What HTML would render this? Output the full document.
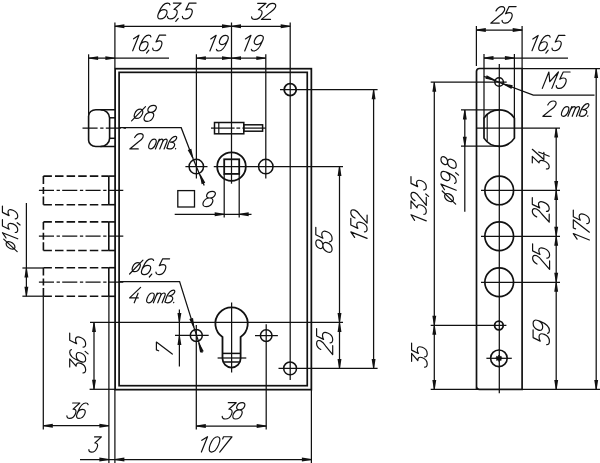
<!DOCTYPE html><html><head><meta charset="utf-8"><style>
html,body{margin:0;padding:0;background:#fff;width:600px;height:463px;overflow:hidden}
svg{display:block}
text{font-family:"Liberation Sans",sans-serif;fill:#111}
</style></head><body>
<svg width="600" height="463" viewBox="0 0 600 463">
<rect x="115.1" y="68.7" width="196.25000000000003" height="320.95" fill="none" stroke="#111" stroke-width="1.75"/>
<rect x="119.1" y="72.35" width="188.15" height="313.35" fill="none" stroke="#111" stroke-width="1.7"/>
<path d="M115,109.7 H95.8 A7.2,6.2 0 0 0 88.6,115.9 V140.3 A7.2,6.2 0 0 0 95.8,146.5 H115" fill="none" stroke="#111" stroke-width="1.6"/>
<path d="M100.5,109.7 A9,8.3 0 0 1 109.6,118 V138.2 A9,8.3 0 0 1 100.5,146.5" fill="none" stroke="#111" stroke-width="1.6"/>
<line x1="109.6" y1="117.8" x2="115" y2="117.8" stroke="#111" stroke-width="1.5"/>
<line x1="109.6" y1="138.3" x2="115" y2="138.3" stroke="#111" stroke-width="1.5"/>
<line x1="82.5" y1="128.2" x2="126" y2="128.2" stroke="#111" stroke-width="1.25" stroke-dasharray="15.1 2.6 3.3 2.3"/>
<path d="M43.4,176.1 H108.8" fill="none" stroke="#111" stroke-width="1.6" stroke-dasharray="8.5 3.1"/>
<path d="M43.4,176.1 V204.70000000000002" fill="none" stroke="#111" stroke-width="1.6" stroke-dasharray="7.8 3 7 2.5 9"/>
<path d="M43.4,204.70000000000002 H108.8" fill="none" stroke="#111" stroke-width="1.6" stroke-dasharray="8.5 3.1"/>
<line x1="108.8" y1="176.1" x2="108.8" y2="204.70000000000002" stroke="#111" stroke-width="1.6"/>
<line x1="108.8" y1="176.1" x2="115" y2="176.1" stroke="#111" stroke-width="1.6"/>
<line x1="108.8" y1="204.70000000000002" x2="115" y2="204.70000000000002" stroke="#111" stroke-width="1.6"/>
<line x1="38.9" y1="190.4" x2="123.3" y2="190.4" stroke="#111" stroke-width="1.25" stroke-dasharray="15.1 2.6 3.3 2.3"/>
<path d="M43.4,221.89999999999998 H108.8" fill="none" stroke="#111" stroke-width="1.6" stroke-dasharray="8.5 3.1"/>
<path d="M43.4,221.89999999999998 V250.5" fill="none" stroke="#111" stroke-width="1.6" stroke-dasharray="7.8 3 7 2.5 9"/>
<path d="M43.4,250.5 H108.8" fill="none" stroke="#111" stroke-width="1.6" stroke-dasharray="8.5 3.1"/>
<line x1="108.8" y1="221.89999999999998" x2="108.8" y2="250.5" stroke="#111" stroke-width="1.6"/>
<line x1="108.8" y1="221.89999999999998" x2="115" y2="221.89999999999998" stroke="#111" stroke-width="1.6"/>
<line x1="108.8" y1="250.5" x2="115" y2="250.5" stroke="#111" stroke-width="1.6"/>
<line x1="38.9" y1="236.2" x2="123.3" y2="236.2" stroke="#111" stroke-width="1.25" stroke-dasharray="15.1 2.6 3.3 2.3"/>
<path d="M43.4,267.7 H108.8" fill="none" stroke="#111" stroke-width="1.6" stroke-dasharray="8.5 3.1"/>
<path d="M43.4,267.7 V296.3" fill="none" stroke="#111" stroke-width="1.6" stroke-dasharray="7.8 3 7 2.5 9"/>
<path d="M43.4,296.3 H108.8" fill="none" stroke="#111" stroke-width="1.6" stroke-dasharray="8.5 3.1"/>
<line x1="108.8" y1="267.7" x2="108.8" y2="296.3" stroke="#111" stroke-width="1.6"/>
<line x1="108.8" y1="267.7" x2="115" y2="267.7" stroke="#111" stroke-width="1.6"/>
<line x1="108.8" y1="296.3" x2="115" y2="296.3" stroke="#111" stroke-width="1.6"/>
<line x1="38.9" y1="282.0" x2="123.3" y2="282.0" stroke="#111" stroke-width="1.25" stroke-dasharray="15.1 2.6 3.3 2.3"/>
<line x1="43.3" y1="296.2" x2="43.3" y2="429.5" stroke="#111" stroke-width="1.25"/>
<line x1="108.9" y1="296.2" x2="108.9" y2="463" stroke="#111" stroke-width="1.25"/>
<line x1="114.9" y1="22.5" x2="114.9" y2="68.3" stroke="#111" stroke-width="1.25"/>
<line x1="114.9" y1="389.3" x2="114.9" y2="463" stroke="#111" stroke-width="1.25"/>
<line x1="88.6" y1="54.3" x2="88.6" y2="115" stroke="#111" stroke-width="1.25"/>
<line x1="114.9" y1="26.3" x2="290.2" y2="26.3" stroke="#111" stroke-width="1.25"/>
<path d="M114.90,25.85 L124.40,24.35 L124.40,28.25 L114.90,26.75 Z" fill="#111"/>
<path d="M231.50,26.75 L222.00,28.25 L222.00,24.35 L231.50,25.85 Z" fill="#111"/>
<path d="M231.50,25.85 L241.00,24.35 L241.00,28.25 L231.50,26.75 Z" fill="#111"/>
<path d="M290.20,26.75 L280.70,28.25 L280.70,24.35 L290.20,25.85 Z" fill="#111"/>
<line x1="231.5" y1="22.5" x2="231.5" y2="183.7" stroke="#111" stroke-width="1.25"/>
<line x1="290.2" y1="22.5" x2="290.2" y2="380" stroke="#111" stroke-width="1.25"/>
<line x1="88.6" y1="58.1" x2="169" y2="58.1" stroke="#111" stroke-width="1.25"/>
<path d="M88.60,57.65 L98.10,56.15 L98.10,60.05 L88.60,58.55 Z" fill="#111"/>
<path d="M114.90,58.55 L105.40,60.05 L105.40,56.15 L114.90,57.65 Z" fill="#111"/>
<line x1="196.4" y1="58.1" x2="265.8" y2="58.1" stroke="#111" stroke-width="1.25"/>
<path d="M196.40,57.65 L205.90,56.15 L205.90,60.05 L196.40,58.55 Z" fill="#111"/>
<path d="M231.50,58.55 L222.00,60.05 L222.00,56.15 L231.50,57.65 Z" fill="#111"/>
<path d="M231.50,57.65 L241.00,56.15 L241.00,60.05 L231.50,58.55 Z" fill="#111"/>
<path d="M265.80,58.55 L256.30,60.05 L256.30,56.15 L265.80,57.65 Z" fill="#111"/>
<line x1="196.4" y1="54.3" x2="196.4" y2="178.5" stroke="#111" stroke-width="1.25"/>
<line x1="265.8" y1="54.3" x2="265.8" y2="178.5" stroke="#111" stroke-width="1.25"/>
<circle cx="290.2" cy="89.7" r="6.0" fill="none" stroke="#111" stroke-width="1.8"/>
<line x1="280" y1="89.7" x2="377.6" y2="89.7" stroke="#111" stroke-width="1.25"/>
<rect x="214.5" y="122.5" width="29.30000000000001" height="11.300000000000011" fill="none" stroke="#111" stroke-width="1.5"/>
<rect x="243.8" y="124.8" width="18.80000000000001" height="6.3999999999999915" fill="none" stroke="#111" stroke-width="1.5"/>
<line x1="218.8" y1="122.5" x2="218.8" y2="133.8" stroke="#111" stroke-width="1.2"/>
<line x1="211" y1="128.1" x2="234.6" y2="128.1" stroke="#111" stroke-width="1.25"/>
<line x1="236.4" y1="128.1" x2="240.2" y2="128.1" stroke="#111" stroke-width="1.25"/>
<line x1="242.4" y1="128.1" x2="265.7" y2="128.1" stroke="#111" stroke-width="1.25"/>
<circle cx="196.3" cy="166.6" r="7.25" fill="none" stroke="#111" stroke-width="1.5"/>
<circle cx="265.8" cy="166.6" r="7.25" fill="none" stroke="#111" stroke-width="1.5"/>
<circle cx="231.5" cy="166.6" r="14.3" fill="none" stroke="#111" stroke-width="1.8"/>
<rect x="224.2" y="159.3" width="15.0" height="14.599999999999994" fill="none" stroke="#111" stroke-width="1.8"/>
<line x1="185.4" y1="166.6" x2="207.5" y2="166.6" stroke="#111" stroke-width="1.25"/>
<line x1="213.75" y1="166.6" x2="343" y2="166.6" stroke="#111" stroke-width="1.25"/>
<line x1="224.2" y1="173.9" x2="224.2" y2="217.4" stroke="#111" stroke-width="1.25"/>
<line x1="239.2" y1="173.9" x2="239.2" y2="217.4" stroke="#111" stroke-width="1.25"/>
<rect x="177.8" y="190.6" width="16.69999999999999" height="16.400000000000006" fill="none" stroke="#111" stroke-width="1.3"/>
<line x1="174.7" y1="214.3" x2="251.5" y2="214.3" stroke="#111" stroke-width="1.25"/>
<path d="M224.20,214.75 L214.70,216.25 L214.70,212.35 L224.20,213.85 Z" fill="#111"/>
<path d="M239.20,213.85 L248.70,212.35 L248.70,216.25 L239.20,214.75 Z" fill="#111"/>
<path d="M119,127.7 H181.2 L192.9,158.2" fill="none" stroke="#111" stroke-width="1.25"/>
<path d="M192.48,158.36 L187.68,150.03 L191.32,148.63 L193.32,158.04 Z" fill="#111"/>
<path d="M192.9,158.2 L204.2,185.6" fill="none" stroke="#111" stroke-width="1.25"/>
<path d="M200.62,174.45 L205.28,182.86 L201.61,184.19 L199.78,174.75 Z" fill="#111"/>
<line x1="339.5" y1="166.6" x2="339.5" y2="368.4" stroke="#111" stroke-width="1.25"/>
<path d="M339.95,166.60 L341.45,176.10 L337.55,176.10 L339.05,166.60 Z" fill="#111"/>
<path d="M339.05,322.40 L337.55,312.90 L341.45,312.90 L339.95,322.40 Z" fill="#111"/>
<path d="M339.95,322.40 L341.45,331.90 L337.55,331.90 L339.05,322.40 Z" fill="#111"/>
<path d="M339.05,368.40 L337.55,358.90 L341.45,358.90 L339.95,368.40 Z" fill="#111"/>
<line x1="373.6" y1="89.7" x2="373.6" y2="368.4" stroke="#111" stroke-width="1.25"/>
<path d="M374.05,89.70 L375.55,99.20 L371.65,99.20 L373.15,89.70 Z" fill="#111"/>
<path d="M373.15,368.40 L371.65,358.90 L375.55,358.90 L374.05,368.40 Z" fill="#111"/>
<line x1="90" y1="322.4" x2="343" y2="322.4" stroke="#111" stroke-width="1.25"/>
<line x1="278.5" y1="368.4" x2="377.6" y2="368.4" stroke="#111" stroke-width="1.25"/>
<circle cx="196.3" cy="335.4" r="6.0" fill="none" stroke="#111" stroke-width="1.5"/>
<line x1="175" y1="335.4" x2="208.7" y2="335.4" stroke="#111" stroke-width="1.25"/>
<line x1="196.3" y1="325" x2="196.3" y2="429.5" stroke="#111" stroke-width="1.25"/>
<circle cx="266.2" cy="335.6" r="5.8" fill="none" stroke="#111" stroke-width="1.5"/>
<line x1="255" y1="335.6" x2="277.9" y2="335.6" stroke="#111" stroke-width="1.25"/>
<line x1="266.2" y1="324.3" x2="266.2" y2="429.5" stroke="#111" stroke-width="1.25"/>
<circle cx="290.1" cy="368.4" r="6.4" fill="none" stroke="#111" stroke-width="1.5"/>
<path d="M222.5,337 A16.2,16.2 0 1 1 240.6,337 L240.6,358.5 A9.05,9.05 0 0 1 222.5,358.5 Z" fill="none" stroke="#111" stroke-width="1.8"/>
<line x1="222.5" y1="353.4" x2="240.6" y2="353.4" stroke="#111" stroke-width="1.5"/>
<line x1="223" y1="362" x2="240" y2="362" stroke="#111" stroke-width="1.5"/>
<line x1="217.6" y1="358" x2="246.3" y2="358" stroke="#111" stroke-width="1.25"/>
<line x1="231.6" y1="302.5" x2="231.6" y2="372.5" stroke="#111" stroke-width="1.25"/>
<path d="M119,281.6 H179.6 L194,327.6" fill="none" stroke="#111" stroke-width="1.25"/>
<path d="M193.57,327.73 L189.30,319.12 L193.02,317.95 L194.43,327.47 Z" fill="#111"/>
<path d="M194,327.6 L202.2,352.7" fill="none" stroke="#111" stroke-width="1.25"/>
<path d="M199.12,342.85 L203.76,351.27 L200.09,352.60 L198.28,343.15 Z" fill="#111"/>
<line x1="179.4" y1="309.5" x2="179.4" y2="366.5" stroke="#111" stroke-width="1.25"/>
<path d="M178.95,322.40 L177.45,312.90 L181.35,312.90 L179.85,322.40 Z" fill="#111"/>
<path d="M179.85,335.40 L181.35,344.90 L177.45,344.90 L178.95,335.40 Z" fill="#111"/>
<line x1="89.6" y1="389.3" x2="115" y2="389.3" stroke="#111" stroke-width="1.25"/>
<line x1="94" y1="322.4" x2="94" y2="389.3" stroke="#111" stroke-width="1.25"/>
<path d="M94.45,322.40 L95.95,331.90 L92.05,331.90 L93.55,322.40 Z" fill="#111"/>
<path d="M93.55,389.30 L92.05,379.80 L95.95,379.80 L94.45,389.30 Z" fill="#111"/>
<line x1="196.3" y1="426" x2="266.2" y2="426" stroke="#111" stroke-width="1.25"/>
<path d="M196.30,425.55 L205.80,424.05 L205.80,427.95 L196.30,426.45 Z" fill="#111"/>
<path d="M266.20,426.45 L256.70,427.95 L256.70,424.05 L266.20,425.55 Z" fill="#111"/>
<line x1="43.3" y1="425.7" x2="108.9" y2="425.7" stroke="#111" stroke-width="1.25"/>
<path d="M43.30,425.25 L52.80,423.75 L52.80,427.65 L43.30,426.15 Z" fill="#111"/>
<path d="M108.90,426.15 L99.40,427.65 L99.40,423.75 L108.90,425.25 Z" fill="#111"/>
<line x1="80" y1="459.5" x2="311.4" y2="459.5" stroke="#111" stroke-width="1.25"/>
<path d="M108.90,459.95 L99.40,461.45 L99.40,457.55 L108.90,459.05 Z" fill="#111"/>
<path d="M114.90,459.05 L124.40,457.55 L124.40,461.45 L114.90,459.95 Z" fill="#111"/>
<path d="M311.40,459.95 L301.90,461.45 L301.90,457.55 L311.40,459.05 Z" fill="#111"/>
<line x1="311.4" y1="389.3" x2="311.4" y2="463" stroke="#111" stroke-width="1.25"/>
<line x1="22.4" y1="268" x2="43.3" y2="268" stroke="#111" stroke-width="1.25"/>
<line x1="22.4" y1="296.2" x2="43.3" y2="296.2" stroke="#111" stroke-width="1.25"/>
<line x1="26.4" y1="203" x2="26.4" y2="296.2" stroke="#111" stroke-width="1.25"/>
<path d="M26.85,268.00 L28.35,277.50 L24.45,277.50 L25.95,268.00 Z" fill="#111"/>
<path d="M25.95,296.20 L24.45,286.70 L28.35,286.70 L26.85,296.20 Z" fill="#111"/>
<path d="M476.5,389.5 V71.5 Q476.5,68.5 479.5,68.5 H522.1 V389.5 H479.5 Q476.5,389.5 476.5,386.5" fill="none" stroke="#111" stroke-width="1.7"/>
<line x1="499.3" y1="64" x2="499.3" y2="393.3" stroke="#111" stroke-width="1.25"/>
<line x1="476.4" y1="26" x2="476.4" y2="66" stroke="#111" stroke-width="1.25"/>
<line x1="522.1" y1="26" x2="522.1" y2="69" stroke="#111" stroke-width="1.25"/>
<line x1="476.3" y1="30" x2="522.2" y2="30" stroke="#111" stroke-width="1.25"/>
<path d="M476.30,29.55 L485.80,28.05 L485.80,31.95 L476.30,30.45 Z" fill="#111"/>
<path d="M522.20,30.45 L512.70,31.95 L512.70,28.05 L522.20,29.55 Z" fill="#111"/>
<line x1="484" y1="54" x2="484" y2="118.5" stroke="#111" stroke-width="1.25"/>
<line x1="514.4" y1="54" x2="514.4" y2="118.5" stroke="#111" stroke-width="1.25"/>
<line x1="484" y1="58" x2="568" y2="58" stroke="#111" stroke-width="1.25"/>
<path d="M484.00,57.55 L493.50,56.05 L493.50,59.95 L484.00,58.45 Z" fill="#111"/>
<path d="M514.40,58.45 L504.90,59.95 L504.90,56.05 L514.40,57.55 Z" fill="#111"/>
<line x1="522.1" y1="68.5" x2="600" y2="68.5" stroke="#111" stroke-width="1.25"/>
<line x1="596.2" y1="68.5" x2="596.2" y2="389.4" stroke="#111" stroke-width="1.25"/>
<path d="M596.65,68.50 L598.15,78.00 L594.25,78.00 L595.75,68.50 Z" fill="#111"/>
<path d="M595.75,389.40 L594.25,379.90 L598.15,379.90 L596.65,389.40 Z" fill="#111"/>
<circle cx="499.1" cy="82" r="4.3" fill="none" stroke="#111" stroke-width="1.5"/>
<line x1="430.7" y1="82.2" x2="506.7" y2="82.2" stroke="#111" stroke-width="1.25"/>
<path d="M484,76.3 L503.2,83.8" fill="none" stroke="#111" stroke-width="1.25"/>
<path d="M494.85,80.62 L485.39,78.86 L486.70,75.19 L495.15,79.78 Z" fill="#111"/>
<path d="M503.2,83.8 L533.3,95.2 H594.5" fill="none" stroke="#111" stroke-width="1.25"/>
<path d="M503.36,83.38 L512.77,85.34 L511.39,88.99 L503.04,84.22 Z" fill="#111"/>
<line x1="434.3" y1="82.2" x2="434.3" y2="389.4" stroke="#111" stroke-width="1.25"/>
<path d="M434.75,82.20 L436.25,91.70 L432.35,91.70 L433.85,82.20 Z" fill="#111"/>
<path d="M433.85,325.30 L432.35,315.80 L436.25,315.80 L434.75,325.30 Z" fill="#111"/>
<path d="M434.75,325.30 L436.25,334.80 L432.35,334.80 L433.85,325.30 Z" fill="#111"/>
<path d="M433.85,389.40 L432.35,379.90 L436.25,379.90 L434.75,389.40 Z" fill="#111"/>
<line x1="430.7" y1="325.3" x2="506.4" y2="325.3" stroke="#111" stroke-width="1.25"/>
<line x1="430.7" y1="389.4" x2="600" y2="389.4" stroke="#111" stroke-width="1.25"/>
<path d="M484,118.1 A18.2,18.2 0 0 1 514.4,118.1 L514.4,138.1 A18.2,18.2 0 0 1 484,138.1 Z" fill="none" stroke="#111" stroke-width="1.7"/>
<line x1="487.2" y1="114.7" x2="487.2" y2="141.3" stroke="#111" stroke-width="1.1"/>
<line x1="461" y1="109.9" x2="500" y2="109.9" stroke="#111" stroke-width="1.25"/>
<line x1="461" y1="146.2" x2="500" y2="146.2" stroke="#111" stroke-width="1.25"/>
<line x1="464.8" y1="109.9" x2="464.8" y2="211.7" stroke="#111" stroke-width="1.25"/>
<path d="M465.25,109.90 L466.75,119.40 L462.85,119.40 L464.35,109.90 Z" fill="#111"/>
<path d="M464.35,146.20 L462.85,136.70 L466.75,136.70 L465.25,146.20 Z" fill="#111"/>
<line x1="477" y1="128.1" x2="560" y2="128.1" stroke="#111" stroke-width="1.25"/>
<line x1="556.2" y1="128.1" x2="556.2" y2="389.4" stroke="#111" stroke-width="1.25"/>
<path d="M556.65,128.10 L558.15,137.60 L554.25,137.60 L555.75,128.10 Z" fill="#111"/>
<path d="M555.75,190.40 L554.25,180.90 L558.15,180.90 L556.65,190.40 Z" fill="#111"/>
<path d="M556.65,190.40 L558.15,199.90 L554.25,199.90 L555.75,190.40 Z" fill="#111"/>
<path d="M555.75,236.30 L554.25,226.80 L558.15,226.80 L556.65,236.30 Z" fill="#111"/>
<path d="M556.65,236.30 L558.15,245.80 L554.25,245.80 L555.75,236.30 Z" fill="#111"/>
<path d="M555.75,282.25 L554.25,272.75 L558.15,272.75 L556.65,282.25 Z" fill="#111"/>
<path d="M556.65,282.25 L558.15,291.75 L554.25,291.75 L555.75,282.25 Z" fill="#111"/>
<path d="M555.75,389.40 L554.25,379.90 L558.15,379.90 L556.65,389.40 Z" fill="#111"/>
<circle cx="499.2" cy="190.4" r="14.35" fill="none" stroke="#111" stroke-width="1.7"/>
<line x1="481" y1="190.4" x2="560" y2="190.4" stroke="#111" stroke-width="1.25"/>
<circle cx="499.2" cy="236.3" r="14.35" fill="none" stroke="#111" stroke-width="1.7"/>
<line x1="481" y1="236.3" x2="560" y2="236.3" stroke="#111" stroke-width="1.25"/>
<circle cx="499.2" cy="282.25" r="14.35" fill="none" stroke="#111" stroke-width="1.7"/>
<line x1="481" y1="282.25" x2="560" y2="282.25" stroke="#111" stroke-width="1.25"/>
<circle cx="498.9" cy="325.5" r="4.3" fill="none" stroke="#111" stroke-width="1.8"/>
<circle cx="498.9" cy="358.3" r="8.3" fill="none" stroke="#111" stroke-width="1.6"/>
<path d="M496.4,356.3 L501.4,360.3 M501.4,356.3 L496.4,360.3 M498.9,355 V361.6 M495.6,358.3 H502.2" stroke="#111" stroke-width="1.5" fill="none"/>
<line x1="486.4" y1="358.3" x2="511.8" y2="358.3" stroke="#111" stroke-width="1.25"/>
<path d="M169.98,4.78 C169.80,3.66 168.86,3.10 167.50,3.10 C164.55,3.10 161.32,6.46 159.08,12.06 L158.18,14.30 C156.98,17.29 158.10,18.97 160.52,18.97 C162.94,18.97 165.40,17.29 166.59,14.30 C167.79,11.32 166.67,9.64 164.25,9.64 C161.94,9.64 159.70,11.04 158.55,13.37 M173.39,3.10 L181.17,3.10 L174.00,9.45 C176.92,9.26 177.92,11.22 176.72,14.21 C175.53,17.20 173.03,18.97 170.51,18.97 C168.51,18.97 167.41,18.04 167.45,16.36 M178.20,18.41 L175.74,21.40 M196.10,3.10 L189.16,3.10 L185.77,10.01 C187.12,9.26 188.53,8.89 189.79,8.89 C192.21,8.89 192.96,10.94 191.73,14.02 C190.50,17.11 187.96,18.97 185.44,18.97 C183.44,18.97 182.34,18.04 182.38,16.36" fill="none" stroke="#111" stroke-width="1.2" stroke-linecap="round" stroke-linejoin="round"/>
<path d="M257.66,3.30 L266.06,3.30 L258.49,9.74 C261.63,9.55 262.76,11.54 261.55,14.57 C260.34,17.60 257.69,19.40 254.96,19.40 C252.81,19.40 251.60,18.45 251.60,16.75 M266.55,7.47 C267.98,4.72 270.37,3.30 272.64,3.30 C275.25,3.30 276.31,4.91 275.36,7.28 C274.52,9.36 272.86,10.69 270.14,12.39 L261.43,19.40 L270.51,19.40" fill="none" stroke="#111" stroke-width="1.2" stroke-linecap="round" stroke-linejoin="round"/>
<path d="M133.60,38.86 L138.93,35.20 L132.70,50.77 M150.91,36.85 C150.77,35.75 149.93,35.20 148.67,35.20 C145.97,35.20 142.91,38.50 140.72,43.99 L139.84,46.19 C138.67,49.12 139.65,50.77 141.86,50.77 C144.08,50.77 146.38,49.12 147.56,46.19 C148.73,43.26 147.75,41.61 145.53,41.61 C143.41,41.61 141.31,42.98 140.20,45.27 M148.84,50.22 L146.51,53.15 M165.65,35.20 L159.28,35.20 L155.99,41.98 C157.25,41.24 158.56,40.88 159.71,40.88 C161.93,40.88 162.57,42.89 161.36,45.92 C160.16,48.94 157.78,50.77 155.47,50.77 C153.63,50.77 152.65,49.85 152.73,48.20" fill="none" stroke="#111" stroke-width="1.2" stroke-linecap="round" stroke-linejoin="round"/>
<path d="M210.71,38.99 L216.18,35.30 L209.90,51.00 M216.46,49.34 C216.61,50.45 217.49,51.00 218.79,51.00 C221.58,51.00 224.71,47.68 226.93,42.13 L227.81,39.92 C229.00,36.96 227.96,35.30 225.67,35.30 C223.37,35.30 221.01,36.96 219.83,39.92 C218.64,42.87 219.68,44.54 221.97,44.54 C224.17,44.54 226.32,43.15 227.44,40.84" fill="none" stroke="#111" stroke-width="1.2" stroke-linecap="round" stroke-linejoin="round"/>
<path d="M245.45,38.99 L250.98,35.30 L244.70,51.00 M251.35,49.34 C251.51,50.45 252.40,51.00 253.72,51.00 C256.56,51.00 259.71,47.68 261.93,42.13 L262.82,39.92 C264.00,36.96 262.94,35.30 260.61,35.30 C258.28,35.30 255.89,36.96 254.71,39.92 C253.53,42.87 254.58,44.54 256.92,44.54 C259.15,44.54 261.32,43.15 262.45,40.84" fill="none" stroke="#111" stroke-width="1.2" stroke-linecap="round" stroke-linejoin="round"/>
<path d="M140.37,109.22 C142.48,109.22 143.47,111.20 142.42,113.85 C141.36,116.49 138.78,118.47 136.67,118.47 C134.55,118.47 133.56,116.49 134.62,113.85 C135.68,111.20 138.25,109.22 140.37,109.22 L140.37,109.22 M131.60,120.83 L145.51,106.67 M153.50,105.35 C155.95,105.35 156.94,106.77 156.11,108.84 C155.32,110.83 153.16,112.34 150.71,112.34 C148.25,112.34 147.30,110.83 148.09,108.84 C148.92,106.77 151.05,105.35 153.50,105.35 L153.50,105.35 M150.71,112.34 C153.38,112.34 154.41,114.22 153.35,116.87 C152.25,119.61 149.75,121.40 147.08,121.40 C144.41,121.40 143.34,119.61 144.44,116.87 C145.49,114.22 148.03,112.34 150.71,112.34 L150.71,112.34" fill="none" stroke="#111" stroke-width="1.2" stroke-linecap="round" stroke-linejoin="round"/>
<path d="M134.65,137.59 C136.01,134.98 138.25,133.62 140.36,133.62 C142.79,133.62 143.77,135.16 142.87,137.41 C142.08,139.39 140.51,140.65 137.96,142.27 L129.80,148.93 L138.26,148.93 M154.42,139.21 C156.42,139.21 156.80,141.19 155.64,144.06 C154.49,146.95 152.54,148.93 150.53,148.93 C148.52,148.93 148.15,146.95 149.30,144.06 C150.45,141.19 152.41,139.21 154.42,139.21 L154.42,139.21 M159.28,139.21 L155.39,148.93 M158.06,142.27 C159.10,140.20 160.44,139.21 161.61,139.21 C162.88,139.21 163.26,140.11 162.54,141.91 L159.73,148.93 M162.54,141.91 C163.47,140.11 164.67,139.21 165.84,139.21 C167.11,139.21 167.59,140.11 166.87,141.91 L164.06,148.93 M167.03,148.39 C167.62,145.33 169.60,140.38 171.77,138.12 C173.01,136.87 174.29,136.33 175.34,136.33 C176.61,136.33 176.99,137.23 176.49,138.49 C175.73,140.38 173.46,141.81 170.57,142.18 C173.78,142.09 175.32,143.53 174.45,145.69 C173.63,147.76 171.47,148.93 169.35,148.93 C168.08,148.93 167.27,148.56 166.82,147.84 M175.66,148.48 L175.52,148.84" fill="none" stroke="#111" stroke-width="1.2" stroke-linecap="round" stroke-linejoin="round"/>
<path d="M212.31,191.35 C214.86,191.35 215.94,192.70 215.15,194.68 C214.39,196.57 212.19,198.01 209.64,198.01 C207.10,198.01 206.05,196.57 206.81,194.68 C207.60,192.70 209.76,191.35 212.31,191.35 L212.31,191.35 M209.64,198.01 C212.42,198.01 213.56,199.81 212.55,202.33 C211.51,204.94 208.97,206.65 206.19,206.65 C203.41,206.65 202.24,204.94 203.28,202.33 C204.29,199.81 206.86,198.01 209.64,198.01 L209.64,198.01" fill="none" stroke="#111" stroke-width="1.2" stroke-linecap="round" stroke-linejoin="round"/>
<path d="M138.05,262.61 C140.05,262.61 140.95,264.56 139.91,267.16 C138.87,269.76 136.41,271.71 134.41,271.71 C132.42,271.71 131.52,269.76 132.56,267.16 C133.60,264.56 136.06,262.61 138.05,262.61 L138.05,262.61 M129.60,274.03 L142.94,260.10 M153.60,260.47 C153.42,259.36 152.49,258.80 151.12,258.80 C148.18,258.80 144.96,262.14 142.73,267.71 L141.84,269.94 C140.65,272.91 141.76,274.59 144.18,274.59 C146.59,274.59 149.05,272.91 150.24,269.94 C151.42,266.97 150.31,265.30 147.89,265.30 C145.58,265.30 143.35,266.69 142.21,269.01 M151.75,274.03 L149.30,277.00 M169.60,258.80 L162.67,258.80 L159.29,265.67 C160.64,264.93 162.05,264.56 163.31,264.56 C165.72,264.56 166.48,266.60 165.25,269.66 C164.03,272.73 161.50,274.59 158.98,274.59 C156.99,274.59 155.89,273.66 155.93,271.99" fill="none" stroke="#111" stroke-width="1.2" stroke-linecap="round" stroke-linejoin="round"/>
<path d="M140.61,287.40 L129.60,297.91 L138.32,297.91 M138.08,293.20 L134.23,302.80 M152.39,293.02 C154.42,293.02 154.79,295.01 153.63,297.91 C152.47,300.81 150.50,302.80 148.48,302.80 C146.46,302.80 146.09,300.81 147.25,297.91 C148.41,295.01 150.37,293.02 152.39,293.02 L152.39,293.02 M157.29,293.02 L153.37,302.80 M156.05,296.10 C157.10,294.01 158.46,293.02 159.62,293.02 C160.90,293.02 161.28,293.92 160.56,295.73 L157.73,302.80 M160.56,295.73 C161.49,293.92 162.71,293.02 163.88,293.02 C165.15,293.02 165.64,293.92 164.92,295.73 L162.09,302.80 M165.07,302.26 C165.67,299.18 167.66,294.19 169.84,291.93 C171.09,290.66 172.37,290.12 173.44,290.12 C174.71,290.12 175.09,291.02 174.59,292.29 C173.83,294.19 171.54,295.64 168.64,296.01 C171.86,295.92 173.41,297.36 172.54,299.54 C171.70,301.62 169.53,302.80 167.41,302.80 C166.13,302.80 165.32,302.44 164.86,301.71 M173.75,302.35 L173.61,302.71" fill="none" stroke="#111" stroke-width="1.2" stroke-linecap="round" stroke-linejoin="round"/>
<path d="M228.29,402.70 L236.19,402.70 L228.88,409.22 C231.84,409.03 232.85,411.04 231.62,414.11 C230.40,417.18 227.85,419.00 225.29,419.00 C223.26,419.00 222.15,418.04 222.20,416.32 M242.17,402.70 C244.52,402.70 245.44,404.14 244.59,406.25 C243.79,408.26 241.68,409.80 239.33,409.80 C236.98,409.80 236.10,408.26 236.90,406.25 C237.75,404.14 239.82,402.70 242.17,402.70 L242.17,402.70 M239.33,409.80 C241.89,409.80 242.83,411.71 241.76,414.40 C240.65,417.18 238.21,419.00 235.65,419.00 C233.08,419.00 232.11,417.18 233.22,414.40 C234.29,411.71 236.77,409.80 239.33,409.80 L239.33,409.80" fill="none" stroke="#111" stroke-width="1.2" stroke-linecap="round" stroke-linejoin="round"/>
<path d="M201.84,440.35 L207.52,436.75 L201.40,452.05 M217.59,436.75 C220.24,436.75 220.57,439.90 218.77,444.40 C216.97,448.90 214.12,452.05 211.47,452.05 C208.82,452.05 208.49,448.90 210.29,444.40 C212.09,439.90 214.94,436.75 217.59,436.75 L217.59,436.75 M222.66,438.91 L223.52,436.75 L232.00,436.75 L219.73,452.05" fill="none" stroke="#111" stroke-width="1.2" stroke-linecap="round" stroke-linejoin="round"/>
<path d="M72.63,403.00 L79.82,403.00 L73.08,409.16 C75.77,408.98 76.66,410.88 75.50,413.78 C74.34,416.68 72.00,418.40 69.67,418.40 C67.83,418.40 66.83,417.49 66.90,415.86 M88.10,404.63 C87.95,403.54 87.10,403.00 85.84,403.00 C83.12,403.00 80.07,406.26 77.89,411.70 L77.02,413.87 C75.86,416.77 76.86,418.40 79.10,418.40 C81.33,418.40 83.63,416.77 84.79,413.87 C85.95,410.97 84.95,409.34 82.72,409.34 C80.58,409.34 78.48,410.70 77.38,412.96" fill="none" stroke="#111" stroke-width="1.2" stroke-linecap="round" stroke-linejoin="round"/>
<path d="M94.57,436.90 L101.40,436.90 L94.89,443.02 C97.45,442.84 98.27,444.73 97.12,447.61 C95.96,450.49 93.71,452.20 91.49,452.20 C89.74,452.20 88.81,451.30 88.90,449.68" fill="none" stroke="#111" stroke-width="1.2" stroke-linecap="round" stroke-linejoin="round"/>
<path d="M496.01,10.87 C497.46,8.06 499.74,6.60 501.86,6.60 C504.31,6.60 505.24,8.25 504.27,10.68 C503.42,12.81 501.81,14.17 499.20,15.92 L490.80,23.10 L499.30,23.10 M516.10,6.60 L509.09,6.60 L505.58,13.78 C506.95,13.01 508.38,12.62 509.66,12.62 C512.10,12.62 512.84,14.75 511.56,17.96 C510.28,21.16 507.69,23.10 505.14,23.10 C503.12,23.10 502.03,22.13 502.09,20.38" fill="none" stroke="#111" stroke-width="1.2" stroke-linecap="round" stroke-linejoin="round"/>
<path d="M532.81,39.03 L538.12,35.43 L532.00,50.73 M550.14,37.05 C549.99,35.97 549.14,35.43 547.88,35.43 C545.18,35.43 542.14,38.67 539.98,44.07 L539.12,46.23 C537.97,49.11 538.96,50.73 541.18,50.73 C543.41,50.73 545.70,49.11 546.85,46.23 C548.00,43.35 547.01,41.73 544.78,41.73 C542.66,41.73 540.57,43.08 539.48,45.33 M548.17,50.19 L545.86,53.07 M564.90,35.43 L558.52,35.43 L555.28,42.09 C556.53,41.37 557.83,41.01 558.99,41.01 C561.22,41.01 561.88,42.99 560.69,45.96 C559.50,48.93 557.14,50.73 554.82,50.73 C552.98,50.73 551.99,49.83 552.05,48.21" fill="none" stroke="#111" stroke-width="1.2" stroke-linecap="round" stroke-linejoin="round"/>
<path d="M542.30,88.40 L548.86,72.00 L549.79,81.65 L558.44,72.00 L551.88,88.40 M570.10,72.00 L563.23,72.00 L559.75,79.14 C561.10,78.37 562.50,77.98 563.75,77.98 C566.15,77.98 566.86,80.10 565.58,83.29 C564.31,86.47 561.77,88.40 559.27,88.40 C557.29,88.40 556.22,87.44 556.29,85.70" fill="none" stroke="#111" stroke-width="1.2" stroke-linecap="round" stroke-linejoin="round"/>
<path d="M547.75,104.96 C549.10,102.35 551.30,101.00 553.37,101.00 C555.75,101.00 556.69,102.53 555.79,104.78 C555.00,106.76 553.46,108.02 550.95,109.64 L542.90,116.30 L551.18,116.30 M567.07,106.58 C569.04,106.58 569.39,108.56 568.24,111.44 C567.08,114.32 565.15,116.30 563.19,116.30 C561.22,116.30 560.87,114.32 562.03,111.44 C563.18,108.56 565.11,106.58 567.07,106.58 L567.07,106.58 M571.84,106.58 L567.95,116.30 M570.61,109.64 C571.65,107.57 572.97,106.58 574.11,106.58 C575.36,106.58 575.72,107.48 575.00,109.28 L572.19,116.30 M575.00,109.28 C575.93,107.48 577.11,106.58 578.25,106.58 C579.50,106.58 579.96,107.48 579.24,109.28 L576.44,116.30 M579.34,115.76 C579.95,112.70 581.93,107.75 584.07,105.50 C585.30,104.24 586.55,103.70 587.58,103.70 C588.82,103.70 589.19,104.60 588.68,105.86 C587.93,107.75 585.70,109.19 582.86,109.55 C586.00,109.46 587.50,110.90 586.63,113.06 C585.81,115.13 583.68,116.30 581.61,116.30 C580.37,116.30 579.58,115.94 579.14,115.22 M587.79,115.85 L587.65,116.21" fill="none" stroke="#111" stroke-width="1.2" stroke-linecap="round" stroke-linejoin="round"/>
<path d="M6.12,243.61 C6.12,241.78 8.01,240.99 10.53,242.00 C13.05,243.01 14.94,245.30 14.94,247.14 C14.94,248.97 13.05,249.75 10.53,248.74 C8.01,247.74 6.12,245.44 6.12,243.61 L6.12,243.61 M17.19,251.60 L3.69,239.07 M6.03,237.98 L2.43,232.69 L17.73,238.81 M2.43,219.68 L2.43,226.04 L9.09,229.28 C8.37,228.03 8.01,226.73 8.01,225.57 C8.01,223.36 9.99,222.71 12.96,223.89 C15.93,225.08 17.73,227.44 17.73,229.75 C17.73,231.58 16.83,232.57 15.21,232.50 M17.19,222.70 L20.07,225.00 M2.43,206.00 L2.43,212.36 L9.09,215.60 C8.37,214.35 8.01,213.05 8.01,211.89 C8.01,209.68 9.99,209.02 12.96,210.21 C15.93,211.40 17.73,213.76 17.73,216.07 C17.73,217.90 16.83,218.89 15.21,218.82" fill="none" stroke="#111" stroke-width="1.2" stroke-linecap="round" stroke-linejoin="round"/>
<path d="M69.70,366.92 L69.70,358.90 L76.08,366.22 C75.90,363.22 77.87,362.16 80.87,363.37 C83.88,364.57 85.66,367.12 85.66,369.72 C85.66,371.78 84.72,372.93 83.03,372.90 M71.39,349.60 C70.26,349.80 69.70,350.77 69.70,352.18 C69.70,355.21 73.08,358.51 78.71,360.77 L80.97,361.67 C83.97,362.87 85.66,361.70 85.66,359.21 C85.66,356.72 83.97,354.20 80.97,353.00 C77.96,351.80 76.27,352.96 76.27,355.46 C76.27,357.84 77.68,360.14 80.03,361.29 M85.10,351.40 L88.10,353.90 M69.70,333.10 L69.70,340.25 L76.65,343.68 C75.90,342.30 75.52,340.85 75.52,339.55 C75.52,337.05 77.59,336.25 80.68,337.49 C83.78,338.73 85.66,341.33 85.66,343.93 C85.66,345.99 84.72,347.13 83.03,347.10" fill="none" stroke="#111" stroke-width="1.2" stroke-linecap="round" stroke-linejoin="round"/>
<path d="M158.64,350.81 L156.40,349.91 L156.40,342.01 L172.30,354.09" fill="none" stroke="#111" stroke-width="1.2" stroke-linecap="round" stroke-linejoin="round"/>
<path d="M315.80,242.75 C315.80,240.25 317.24,239.23 319.35,240.08 C321.36,240.88 322.90,243.09 322.90,245.59 C322.90,248.08 321.36,249.06 319.35,248.25 C317.24,247.41 315.80,245.25 315.80,242.75 L315.80,242.75 M322.90,245.59 C322.90,242.86 324.81,241.81 327.50,242.88 C330.28,244.00 332.10,246.54 332.10,249.27 C332.10,251.99 330.28,253.08 327.50,251.97 C324.81,250.90 322.90,248.31 322.90,245.59 L322.90,245.59 M315.80,227.30 L315.80,234.80 L322.90,238.32 C322.13,236.87 321.74,235.36 321.74,233.99 C321.74,231.38 323.85,230.52 327.02,231.79 C330.18,233.05 332.10,235.75 332.10,238.48 C332.10,240.64 331.14,241.84 329.42,241.83" fill="none" stroke="#111" stroke-width="1.2" stroke-linecap="round" stroke-linejoin="round"/>
<path d="M354.64,237.45 L350.80,231.88 L367.10,238.40 M350.80,218.26 L350.80,224.92 L357.90,228.36 C357.13,227.05 356.74,225.68 356.74,224.47 C356.74,222.15 358.85,221.48 362.02,222.75 C365.18,224.01 367.10,226.49 367.10,228.92 C367.10,230.83 366.14,231.86 364.42,231.78 M355.02,218.03 C352.24,216.61 350.80,214.42 350.80,212.41 C350.80,210.09 352.43,209.22 354.83,210.18 C356.94,211.03 358.28,212.57 360.00,215.08 L367.10,223.16 L367.10,215.09" fill="none" stroke="#111" stroke-width="1.2" stroke-linecap="round" stroke-linejoin="round"/>
<path d="M320.77,349.49 C318.02,348.06 316.60,345.71 316.60,343.49 C316.60,340.94 318.21,339.91 320.58,340.86 C322.66,341.69 323.99,343.34 325.69,346.02 L332.70,354.60 L332.70,345.71 M316.60,328.60 L316.60,335.94 L323.61,339.41 C322.85,337.99 322.47,336.51 322.47,335.17 C322.47,332.62 324.56,331.78 327.68,333.03 C330.81,334.28 332.70,336.93 332.70,339.60 C332.70,341.71 331.75,342.89 330.05,342.87" fill="none" stroke="#111" stroke-width="1.2" stroke-linecap="round" stroke-linejoin="round"/>
<path d="M414.58,220.31 L410.98,214.78 L426.28,220.90 M410.98,208.54 L410.98,200.96 L417.10,207.91 C416.92,205.08 418.81,204.09 421.69,205.25 C424.57,206.40 426.28,208.82 426.28,211.28 C426.28,213.22 425.38,214.30 423.76,214.26 M414.94,200.60 C412.33,199.25 410.98,197.07 410.98,195.02 C410.98,192.67 412.51,191.75 414.76,192.65 C416.74,193.44 418.00,194.97 419.62,197.46 L426.28,205.44 L426.28,197.26 M425.74,193.97 L428.62,196.35 M410.98,176.60 L410.98,183.36 L417.64,186.63 C416.92,185.32 416.56,183.95 416.56,182.72 C416.56,180.37 418.54,179.62 421.51,180.81 C424.48,182.00 426.28,184.46 426.28,186.92 C426.28,188.86 425.38,189.93 423.76,189.90" fill="none" stroke="#111" stroke-width="1.2" stroke-linecap="round" stroke-linejoin="round"/>
<path d="M444.62,195.80 C444.62,193.82 446.51,192.90 449.03,193.91 C451.55,194.92 453.44,197.35 453.44,199.33 C453.44,201.32 451.55,202.23 449.03,201.23 C446.51,200.22 444.62,197.79 444.62,195.80 L444.62,195.80 M455.69,204.10 L442.19,190.96 M444.53,189.71 L440.93,184.08 L456.23,190.20 M454.61,183.39 C455.69,183.19 456.23,182.26 456.23,180.90 C456.23,177.97 452.99,174.80 447.59,172.64 L445.43,171.77 C442.55,170.62 440.93,171.75 440.93,174.15 C440.93,176.56 442.55,178.98 445.43,180.13 C448.31,181.29 449.93,180.16 449.93,177.75 C449.93,175.45 448.58,173.24 446.33,172.13 M455.69,172.74 L458.57,175.15 M440.93,159.31 C440.93,157.01 442.28,156.09 444.26,156.88 C446.15,157.63 447.59,159.67 447.59,161.97 C447.59,164.27 446.15,165.16 444.26,164.40 C442.28,163.61 440.93,161.61 440.93,159.31 L440.93,159.31 M447.59,161.97 C447.59,159.46 449.39,158.51 451.91,159.52 C454.52,160.56 456.23,162.92 456.23,165.43 C456.23,167.94 454.52,168.93 451.91,167.88 C449.39,166.87 447.59,164.48 447.59,161.97 L447.59,161.97" fill="none" stroke="#111" stroke-width="1.2" stroke-linecap="round" stroke-linejoin="round"/>
<path d="M532.30,162.80 L532.30,156.31 L539.06,162.88 C538.86,160.43 540.95,159.77 544.13,161.05 C547.31,162.32 549.20,164.56 549.20,166.67 C549.20,168.33 548.21,169.16 546.42,168.97 M532.30,149.30 L543.83,159.52 L543.83,152.33 M538.66,152.02 L549.20,156.23" fill="none" stroke="#111" stroke-width="1.2" stroke-linecap="round" stroke-linejoin="round"/>
<path d="M536.67,216.89 C533.79,215.43 532.30,213.22 532.30,211.21 C532.30,208.89 533.99,208.05 536.48,209.05 C538.66,209.92 540.05,211.49 541.84,214.02 L549.20,222.20 L549.20,214.14 M532.30,197.70 L532.30,204.35 L539.66,207.90 C538.86,206.57 538.46,205.21 538.46,204.00 C538.46,201.68 540.65,201.04 543.93,202.35 C547.21,203.66 549.20,206.17 549.20,208.59 C549.20,210.51 548.21,211.52 546.42,211.41" fill="none" stroke="#111" stroke-width="1.2" stroke-linecap="round" stroke-linejoin="round"/>
<path d="M537.00,264.04 C534.10,262.56 532.60,260.25 532.60,258.11 C532.60,255.66 534.30,254.73 536.80,255.73 C539.00,256.61 540.40,258.24 542.20,260.89 L549.60,269.40 L549.60,260.85 M532.60,243.80 L532.60,250.85 L540.00,254.45 C539.20,253.06 538.80,251.62 538.80,250.34 C538.80,247.88 541.00,247.16 544.30,248.48 C547.60,249.80 549.60,252.42 549.60,254.98 C549.60,257.01 548.60,258.10 546.80,258.03" fill="none" stroke="#111" stroke-width="1.2" stroke-linecap="round" stroke-linejoin="round"/>
<path d="M577.09,239.14 L573.30,233.56 L589.40,240.00 M575.57,228.88 L573.30,227.97 L573.30,219.85 L589.40,232.18 M573.30,210.10 L573.30,216.80 L580.31,220.22 C579.55,218.90 579.17,217.53 579.17,216.31 C579.17,213.97 581.26,213.28 584.38,214.53 C587.51,215.78 589.40,218.27 589.40,220.70 C589.40,222.63 588.45,223.68 586.75,223.60" fill="none" stroke="#111" stroke-width="1.2" stroke-linecap="round" stroke-linejoin="round"/>
<path d="M411.60,361.34 L411.60,353.36 L417.84,360.60 C417.66,357.61 419.58,356.55 422.52,357.72 C425.46,358.90 427.20,361.43 427.20,364.02 C427.20,366.07 426.28,367.21 424.63,367.20 M411.60,343.00 L411.60,350.12 L418.39,353.48 C417.66,352.11 417.29,350.67 417.29,349.38 C417.29,346.89 419.31,346.08 422.34,347.30 C425.36,348.51 427.20,351.07 427.20,353.66 C427.20,355.71 426.28,356.86 424.63,356.84" fill="none" stroke="#111" stroke-width="1.2" stroke-linecap="round" stroke-linejoin="round"/>
<path d="M533.10,329.84 L533.10,337.61 L540.20,341.15 C539.43,339.67 539.04,338.10 539.04,336.69 C539.04,333.98 541.15,333.06 544.32,334.33 C547.48,335.59 549.40,338.36 549.40,341.18 C549.40,343.42 548.44,344.68 546.72,344.70 M547.67,333.32 C548.82,333.07 549.40,332.01 549.40,330.48 C549.40,327.18 545.95,323.68 540.20,321.38 L537.89,320.46 C534.83,319.24 533.10,320.55 533.10,323.25 C533.10,325.96 534.83,328.65 537.89,329.88 C540.96,331.10 542.69,329.79 542.69,327.09 C542.69,324.50 541.25,322.04 538.85,320.85" fill="none" stroke="#111" stroke-width="1.2" stroke-linecap="round" stroke-linejoin="round"/>
</svg></body></html>
